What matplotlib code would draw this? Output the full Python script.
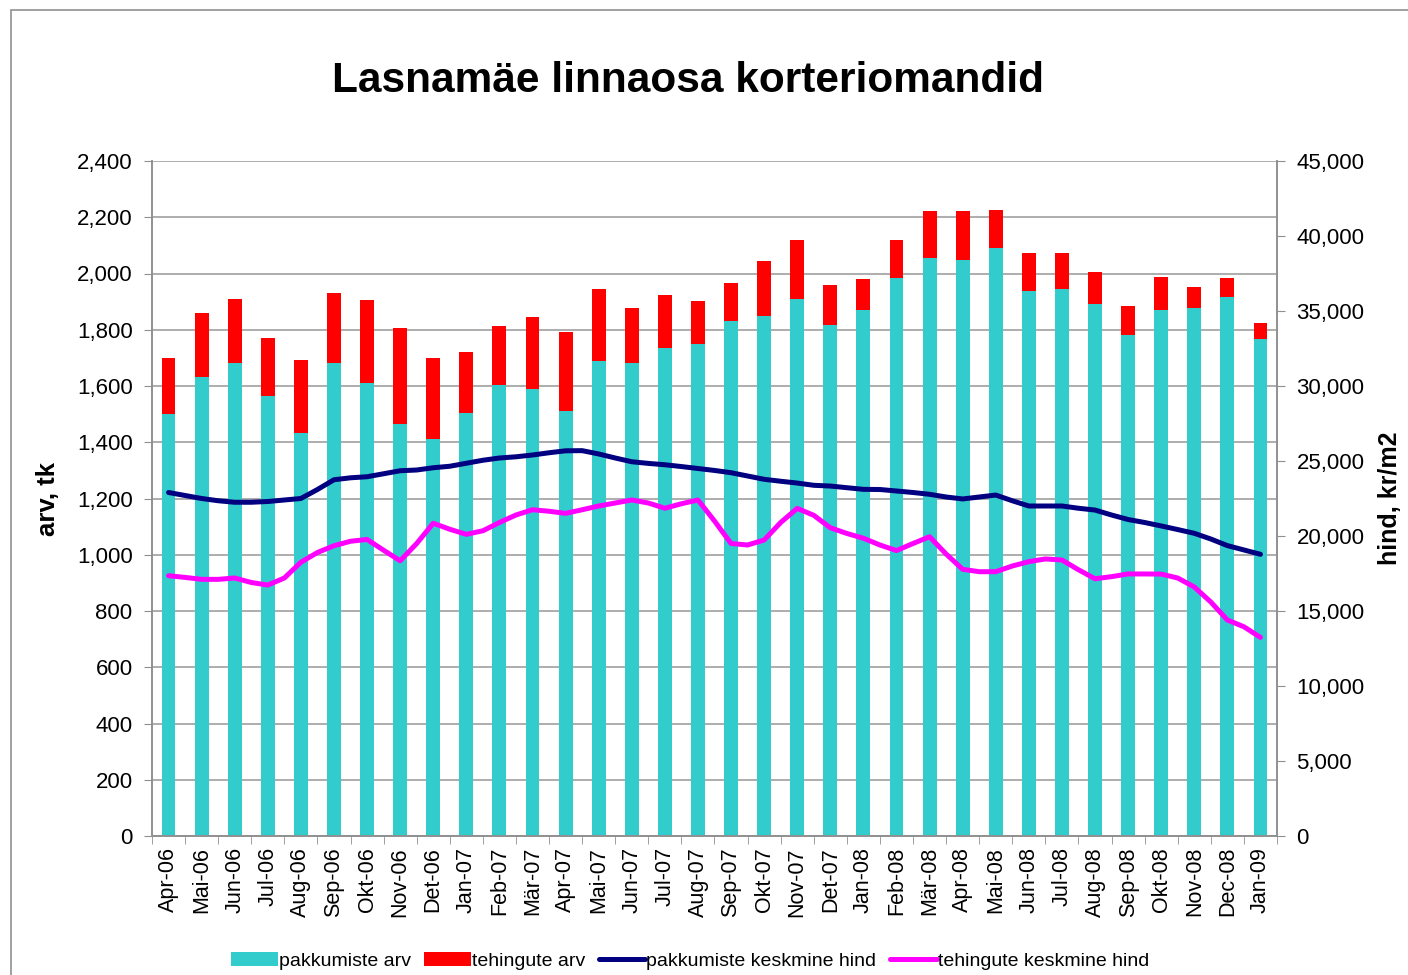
import matplotlib
matplotlib.use("Agg")
import matplotlib.pyplot as plt
from matplotlib.patches import Rectangle
from matplotlib.ticker import FuncFormatter, FixedLocator
import numpy as np

plt.rcParams['font.family'] = ['Liberation Sans', 'DejaVu Sans']

months = ["Apr-06", "Mai-06", "Jun-06", "Jul-06", "Aug-06", "Sep-06", "Okt-06", "Nov-06", "Det-06",
          "Jan-07", "Feb-07", "Mär-07", "Apr-07", "Mai-07", "Jun-07", "Jul-07", "Aug-07", "Sep-07",
          "Okt-07", "Nov-07", "Det-07", "Jan-08", "Feb-08", "Mär-08", "Apr-08", "Mai-08", "Jun-08",
          "Jul-08", "Aug-08", "Sep-08", "Okt-08", "Nov-08", "Dec-08", "Jan-09"]

# pakkumiste arv (offers)
offers = [1500, 1632, 1683, 1564, 1433, 1683, 1611, 1465, 1412,
          1504, 1604, 1589, 1511, 1689, 1682, 1735, 1749, 1831,
          1849, 1909, 1817, 1870, 1984, 2055, 2048, 2091, 1938,
          1945, 1892, 1781, 1870, 1877, 1916, 1767]
# total height (offers + deals)
totals = [1700, 1860, 1909, 1771, 1692, 1931, 1906, 1806, 1700,
          1721, 1813, 1845, 1792, 1945, 1877, 1924, 1902, 1966,
          2044, 2119, 1959, 1980, 2119, 2222, 2222, 2226, 2073,
          2073, 2005, 1884, 1988, 1952, 1984, 1824]
deals = [t - o for t, o in zip(totals, offers)]

# semi-monthly price readings (kr/m2), first point at Apr-06, last at Jan-09
offer_price = [22900, 22700, 22500, 22350, 22250, 22250, 22300, 22400, 22500, 23100,
               23750, 23880, 23950, 24150, 24350, 24400, 24550, 24650, 24850, 25050,
               25200, 25280, 25400, 25550, 25680, 25690, 25470, 25200, 24950, 24840,
               24750, 24630, 24500, 24370, 24220, 24000, 23780, 23650, 23530, 23380,
               23330, 23220, 23110, 23100, 23000, 22900, 22780, 22600, 22470, 22600,
               22730, 22350, 22000, 22000, 22000, 21850, 21730, 21400, 21100, 20900,
               20670, 20430, 20180, 19800, 19360, 19070, 18780]
deal_price = [17350, 17240, 17110, 17110, 17200, 16900, 16730, 17200, 18250, 18900,
              19350, 19650, 19770, 19050, 18350, 19500, 20850, 20450, 20110, 20350,
              20900, 21400, 21750, 21650, 21510, 21750, 22000, 22200, 22400, 22200,
              21850, 22150, 22400, 21000, 19500, 19400, 19730, 20900, 21840, 21380,
              20550, 20170, 19850, 19400, 19030, 19500, 19950, 18800, 17780, 17620,
              17620, 18000, 18290, 18470, 18400, 17750, 17150, 17290, 17470, 17470,
              17460, 17200, 16600, 15600, 14400, 13950, 13240]

W, H = 1408, 975
fig = plt.figure(figsize=(W / 100, H / 100), dpi=100)
fig.patches.append(Rectangle((11 / W, -0.05), 2, 1.05 - 10 / H, transform=fig.transFigure,
                             fill=False, edgecolor='#909090', linewidth=1.2))

ax = fig.add_axes([152 / W, 1 - 836 / H, (1277 - 152) / W, (836 - 161) / H])
x = np.arange(len(months))
ax.bar(x, offers, width=0.42, color='#33CCCC', label='pakkumiste arv', zorder=2)
ax.bar(x, deals, width=0.42, bottom=offers, color='#FF0000', label='tehingute arv', zorder=2)
ax.set_xlim(-0.5, len(months) - 0.5)
ax.set_ylim(0, 2400)
ax.set_yticks(np.arange(0, 2401, 200))
ax.yaxis.set_major_formatter(FuncFormatter(lambda v, p: f"{int(v):,}"))
ax.grid(axis='y', color='#a0a0a0', linewidth=1.2, zorder=0)
ax.set_axisbelow(True)
ax.set_xticks(x)
ax.set_xticklabels(months, rotation=90, fontsize=15.5)
ax.tick_params(axis='x', length=0, pad=8)
ax.xaxis.set_minor_locator(FixedLocator(np.arange(-0.5, len(months), 1)))
ax.tick_params(axis='x', which='minor', length=6, color='#909090')
ax.tick_params(axis='y', labelsize=16, length=6, color='#909090', pad=8)
ax.spines['top'].set_visible(False)
for s in ['left', 'right', 'bottom']:
    ax.spines[s].set_color('#909090')
    ax.spines[s].set_linewidth(1.2)
ax.set_ylabel('arv, tk', fontsize=18.5, fontweight='bold', labelpad=12)

ax2 = ax.twinx()
xs = np.arange(len(offer_price)) * 0.5
ax2.plot(xs, offer_price, color='#000080', linewidth=3.6, label='pakkumiste keskmine hind',
         solid_capstyle='round', solid_joinstyle='round', zorder=3)
ax2.plot(xs, deal_price, color='#FF00FF', linewidth=3.6, label='tehingute keskmine hind',
         solid_capstyle='round', solid_joinstyle='round', zorder=3)
ax2.set_ylim(0, 45000)
ax2.set_yticks(np.arange(0, 45001, 5000))
ax2.yaxis.set_major_formatter(FuncFormatter(lambda v, p: f"{int(v):,}"))
ax2.tick_params(axis='y', labelsize=16, length=6, color='#909090', pad=8)
ax2.spines['top'].set_visible(False)
for s in ['left', 'right', 'bottom']:
    ax2.spines[s].set_color('#909090')
    ax2.spines[s].set_linewidth(1.2)
ax2.set_ylabel('hind, kr/m2', fontsize=18, fontweight='bold', labelpad=10)

fig.text(688 / W, 1 - 81 / H, 'Lasnamäe linnaosa korteriomandid', ha='center', va='center',
         fontsize=30.5, fontweight='bold')

h1, l1 = ax.get_legend_handles_labels()
h2, l2 = ax2.get_legend_handles_labels()
fig.legend(h1 + h2, l1 + l2, loc='center', bbox_to_anchor=(690 / W, 1 - 961 / H), ncol=4,
           frameon=False, fontsize=14, handlelength=2.4, handleheight=0.7,
           handletextpad=0.05, columnspacing=0.7)

fig.savefig('out.png', dpi=100)
